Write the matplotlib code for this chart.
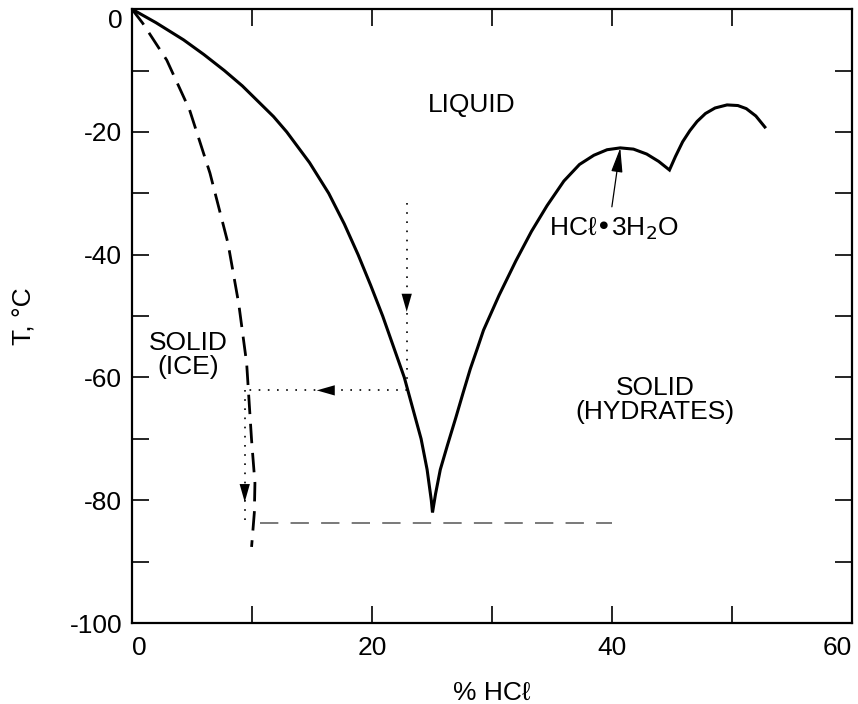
import matplotlib
matplotlib.use("Agg")
import matplotlib.pyplot as plt

plt.rcParams["font.family"] = ["Liberation Sans", "DejaVu Sans"]

# liquidus: ice branch, eutectic, trihydrate maximum, second hydrate
liquidus_x = [0, 2.0, 4.3, 6.0, 7.7, 9.2, 10.5, 11.8, 12.9, 14.8, 16.4, 17.7, 18.85,
              19.9, 20.9, 21.8, 22.7, 23.4, 24.1, 24.6, 24.95, 25.05,
              25.3, 25.7, 26.3, 27.0, 27.6, 28.2, 28.8, 29.3, 30.6, 32.0, 33.3, 34.6,
              36.0, 37.3, 38.5, 39.6, 40.7, 41.8, 42.9, 43.9, 44.8,
              45.3, 45.9, 46.5, 47.1, 47.8, 48.6, 49.6, 50.5, 51.2, 52.0, 52.75]
liquidus_t = [0, -2.2, -5.0, -7.4, -10.0, -12.5, -15.0, -17.5, -20.0, -25.0, -30.0, -35.0,
              -40.0, -45.0, -50.0, -55.0, -60.0, -65.0, -70.0, -75.0, -80.0, -82.0,
              -79.0, -75.0, -71.0, -66.5, -62.5, -58.6, -55.2, -52.3, -46.6, -41.0,
              -36.2, -32.0, -28.0, -25.3, -23.8, -22.9, -22.6, -22.8, -23.6, -24.8, -26.2,
              -24.0, -21.6, -19.8, -18.3, -17.0, -16.1, -15.6, -15.7, -16.2, -17.4, -19.2]

# solid (ice) composition curve
ice_x = [0, 0.9, 2.9, 4.8, 6.5, 8.0, 8.9, 9.56, 9.97, 10.25, 10.2, 9.97]
ice_t = [0, -2.3, -8.3, -16.4, -26.7, -38.1, -48, -57.7, -70.2, -77.2, -82, -87.6]

eutectic_t = -83.7
eutectic_span = [10.7, 40.0]

# cooling path
path_x = 22.9
path_top = -31.6
path_t = -62.1
ice_end_x = 9.4

fig = plt.figure(figsize=(8.58, 7.04), dpi=100)
ax = fig.add_axes([0.1538, 0.115, 0.839, 0.872])

ax.plot(liquidus_x, liquidus_t, color="black", lw=2.2, solid_joinstyle="miter")
ax.plot(ice_x, ice_t, color="black", lw=2.0, linestyle=(0, (7, 3.5)))
ax.plot(eutectic_span, [eutectic_t, eutectic_t], color="#555555", lw=1.1,
        linestyle=(0, (12, 8)))

dots = (0, (1, 4.5))
ax.plot([path_x, path_x], [path_top, path_t + 1.5], color="black", lw=1.2, linestyle=dots)
ax.plot([path_x, ice_end_x], [path_t, path_t], color="black", lw=1.2, linestyle=dots)
ax.plot([ice_end_x, ice_end_x], [path_t, eutectic_t], color="black", lw=1.2,
        linestyle=dots)

head = dict(arrowstyle="-|>,head_length=1.3,head_width=0.37", color="black", lw=0,
            shrinkA=0, shrinkB=0)
ax.annotate("", xy=(path_x, -49.3), xytext=(path_x, -45.0), arrowprops=head)
ax.annotate("", xy=(15.4, path_t), xytext=(17.5, path_t), arrowprops=head)
ax.annotate("", xy=(ice_end_x, -80.3), xytext=(ice_end_x, -76.0), arrowprops=head)

ax.annotate("", xy=(40.7, -22.6), xytext=(40.0, -32.2),
            arrowprops=dict(arrowstyle="-|>,head_length=1.5,head_width=0.35",
                            color="black", lw=0.9, shrinkA=0, shrinkB=0))

fs = 19
ax.text(28.3, -15.6, "LIQUID", fontsize=fs, ha="center", va="center")
ax.text(34.8, -35.8, "HCℓ•3H$_2$O", fontsize=fs, ha="left", va="center")
ax.text(4.7, -56.4, "SOLID\n(ICE)", fontsize=fs, ha="center", va="center",
        linespacing=1.0)
ax.text(43.6, -63.7, "SOLID\n(HYDRATES)", fontsize=fs, ha="center", va="center",
        linespacing=1.0)

ax.set_xlim(0, 60)
ax.set_ylim(-100, 0)
ax.set_xticks(range(0, 61, 10))
ax.set_xticklabels([str(v) if v % 20 == 0 else "" for v in range(0, 61, 10)])
ax.set_yticks(range(-100, 1, 10))
ax.set_yticklabels([str(v) if v % 20 == 0 else "" for v in range(-100, 1, 10)])
ax.tick_params(direction="in", length=12, width=1.2, labelsize=19, top=True, right=True)
ax.tick_params(axis="x", pad=9)
ax.tick_params(axis="y", pad=7)
xl = ax.get_xticklabels()
xl[0].set_ha("left")
xl[-1].set_ha("right")
ax.get_yticklabels()[-1].set_va("top")
for s in ax.spines.values():
    s.set_linewidth(1.6)

ax.set_xlabel("% HCℓ", fontsize=19, labelpad=15)
ax.set_ylabel("T, °C", fontsize=19, labelpad=24)

fig.savefig("out.png", dpi=100)
